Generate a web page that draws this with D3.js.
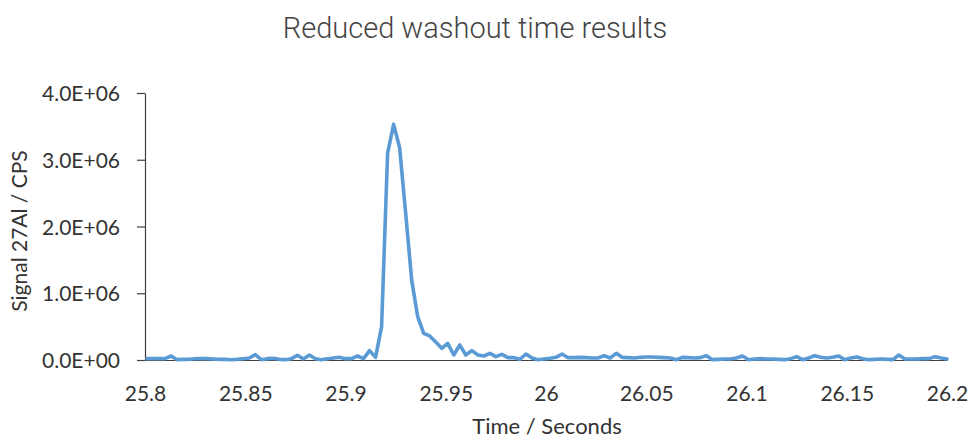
<!DOCTYPE html>
<html>
<head>
<meta charset="utf-8">
<script src="https://cdn.jsdelivr.net/npm/d3@7"></script>
<style>
  body { margin: 0; background: #fff; }
  .title { font-family: Roboto, sans-serif; font-weight: 300; font-size: 29px; fill: #444; }
  .tickText { font-family: Lato, "Open Sans", sans-serif; font-size: 21px; fill: #333; }
  .axisTitle { font-family: Lato, "Open Sans", sans-serif; font-size: 21px; fill: #333; }
</style>
</head>
<body>
<div id="chart"></div>
<script>
"use strict";

// sample times (s)
let times = [
  25.801, 25.804, 25.807, 25.810, 25.813, 25.816, 25.819, 25.822, 25.825, 25.828,
  25.831, 25.834, 25.837, 25.840, 25.843, 25.846, 25.849, 25.852, 25.855, 25.858,
  25.861, 25.864, 25.867, 25.870, 25.873, 25.876, 25.879, 25.882, 25.885, 25.888,
  25.891, 25.894, 25.897, 25.900, 25.903, 25.906, 25.909, 25.912, 25.915, 25.918,
  25.921, 25.924, 25.927, 25.930, 25.933, 25.936, 25.939, 25.942, 25.945, 25.948,
  25.951, 25.954, 25.957, 25.960, 25.963, 25.966, 25.969, 25.972, 25.975, 25.978,
  25.981, 25.984, 25.987, 25.990, 25.993, 25.996, 25.999, 26.002, 26.005, 26.008,
  26.011, 26.014, 26.017, 26.020, 26.023, 26.026, 26.029, 26.032, 26.035, 26.038,
  26.041, 26.044, 26.047, 26.050, 26.053, 26.056, 26.059, 26.062, 26.065, 26.068,
  26.071, 26.074, 26.077, 26.080, 26.083, 26.086, 26.089, 26.092, 26.095, 26.098,
  26.101, 26.104, 26.107, 26.110, 26.113, 26.116, 26.119, 26.122, 26.125, 26.128,
  26.131, 26.134, 26.137, 26.140, 26.143, 26.146, 26.149, 26.152, 26.155, 26.158,
  26.161, 26.164, 26.167, 26.170, 26.173, 26.176, 26.179, 26.182, 26.185, 26.188,
  26.191, 26.194, 26.197, 26.200
];

// 27Al signal (CPS)
let signal = [
  20000, 20000, 20000, 20000, 60000, 5000, 10000, 10000, 20000, 20000,
  20000, 15000, 10000, 10000, 3000, 10000, 20000, 30000, 80000, 5000,
  20000, 25000, 10000, 5000, 20000, 70000, 15000, 75000, 20000, 5000,
  20000, 30000, 40000, 20000, 20000, 60000, 20000, 140000, 40000, 500000,
  3100000, 3530000, 3180000, 2200000, 1200000, 650000, 400000, 360000, 270000, 175000,
  250000, 75000, 225000, 75000, 140000, 75000, 60000, 100000, 50000, 85000,
  35000, 35000, 10000, 90000, 30000, 5000, 15000, 25000, 40000, 90000,
  35000, 35000, 40000, 35000, 30000, 30000, 65000, 30000, 100000, 40000,
  35000, 30000, 40000, 45000, 45000, 40000, 35000, 30000, 5000, 40000,
  35000, 30000, 35000, 65000, 5000, 10000, 15000, 15000, 30000, 60000,
  5000, 15000, 20000, 15000, 15000, 10000, 5000, 20000, 50000, 5000,
  30000, 65000, 40000, 30000, 40000, 60000, 5000, 30000, 45000, 20000,
  5000, 10000, 15000, 10000, 5000, 75000, 15000, 15000, 15000, 20000,
  20000, 50000, 30000, 15000
];

let xTicks = [25.8, 25.85, 25.9, 25.95, 26, 26.05, 26.1, 26.15, 26.2];
let yTicks = [0, 1e6, 2e6, 3e6, 4e6];

let width = 971;
let height = 440;

let svg = d3.select("#chart").append("svg")
  .attr("width", width)
  .attr("height", height);

let x = d3.scaleLinear()
  .domain([25.8, 26.2])
  .range([145, 947]);

let y = d3.scaleLinear()
  .domain([0, 4e6])
  .range([360, 93]);

// excel style scientific labels, e.g. 4.0E+06
function sciFormat(d) {
  if (d === 0) return "0.0E+00";
  let exp = Math.floor(Math.log10(d));
  let mant = d / Math.pow(10, exp);
  return mant.toFixed(1) + "E+" + String(exp).padStart(2, "0");
}

svg.append("text")
  .attr("class", "title")
  .attr("x", 475)
  .attr("y", 38)
  .style("text-anchor", "middle")
  .text("Reduced washout time results");

// y axis
let yAxis = svg.append("g")
  .attr("transform", `translate(${x.range()[0]}, 0)`)
  .call(d3.axisLeft(y).tickValues(yTicks).tickFormat(sciFormat).tickSize(8).tickSizeOuter(0).tickPadding(17));

yAxis.select(".domain").attr("stroke", "#404040").attr("stroke-width", 1.2);
yAxis.selectAll(".tick line").attr("stroke", "#404040").attr("stroke-width", 1.2);
yAxis.selectAll(".tick text")
  .attr("class", "tickText")
  .attr("fill", null)
  .attr("dy", "0.36em");
yAxis.attr("font-family", null).attr("font-size", null);

// x axis
let xAxis = svg.append("g")
  .attr("transform", `translate(0, ${y(0)})`)
  .call(d3.axisBottom(x).tickValues(xTicks).tickFormat(d3.format("")).tickSize(0).tickPadding(26));

xAxis.select(".domain").attr("stroke", "#404040").attr("stroke-width", 1.2);
xAxis.selectAll(".tick text")
  .attr("class", "tickText")
  .attr("fill", null);
xAxis.attr("font-family", null).attr("font-size", null);

// line
let line = d3.line()
  .x((d, i) => x(times[i]))
  .y(d => y(d));

svg.append("path")
  .datum(signal)
  .attr("fill", "none")
  .attr("stroke", "#5b9bd5")
  .attr("stroke-width", 3.6)
  .attr("stroke-linejoin", "round")
  .attr("stroke-linecap", "round")
  .attr("d", line);

// axis titles
svg.append("text")
  .attr("class", "axisTitle")
  .attr("transform", `translate(27, 231) rotate(-90)`)
  .style("text-anchor", "middle")
  .text("Signal 27Al / CPS");

svg.append("text")
  .attr("class", "axisTitle")
  .attr("x", 547)
  .attr("y", 434)
  .style("text-anchor", "middle")
  .style("font-size", "22px")
  .text("Time / Seconds");
</script>
</body>
</html>
